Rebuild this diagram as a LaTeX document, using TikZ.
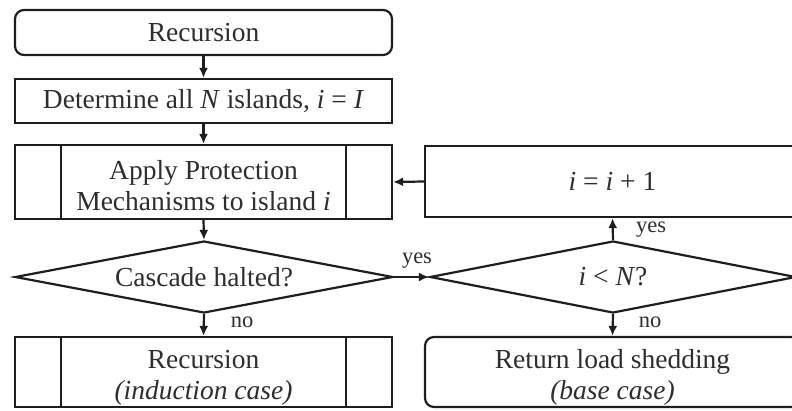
\documentclass[tikz,border=0pt]{standalone}
\usepackage{fontspec}
\setmainfont{Liberation Serif}
\usetikzlibrary{shapes.geometric,arrows.meta}
\definecolor{ink}{HTML}{1E1E1E}
\definecolor{txt}{HTML}{2E2E2E}
\tikzset{
  box/.style={draw=ink, line width=2.2pt, minimum width=377pt, inner sep=0pt,
    align=center, text=txt, font=\fontsize{27.5}{31}\selectfont},
  rbox/.style={box, rounded corners=9pt},
  decision/.style={diamond, draw=ink, line width=2.2pt, inner sep=0pt,
    shape aspect=5, text=txt, font=\fontsize{27.5}{31}\selectfont},
  flow/.style={draw=ink, line width=2.2pt, -{Latex[length=10pt,width=9pt]}},
  bar/.style={draw=ink, line width=2.2pt},
  lbl/.style={text=txt, inner sep=0pt, font=\fontsize{22.5}{26}\selectfont}
}
% strut that lowers a two-line text block inside its box
\newcommand{\lowerstrut}[1]{\rule{0pt}{#1}}
\begin{document}
\begin{tikzpicture}[x=1pt,y=-1pt]
  \useasboundingbox (0,0) rectangle (792,410);
  \clip (0,0) rectangle (792,410);
  \fill[white] (0,0) rectangle (792,410);

  % left column
  \node[rbox, minimum height=45pt] (rec) at (203.5,32.5) {Recursion};
  \node[box, minimum height=44pt] (det) at (203.5,101)
    {Determine all \textit{N} islands, \textit{i} = \textit{I}};
  \node[box, minimum height=74pt] (app) at (203.5,182)
    {\lowerstrut{27pt}Apply Protection\\Mechanisms to island \textit{i}};
  \node[decision, minimum width=378pt, minimum height=72pt] (cas) at (204,277)
    {Cascade halted?};
  \node[box, minimum height=70pt] (ind) at (203.5,372)
    {\lowerstrut{30pt}Recursion\\\textit{(induction case)}};

  % subroutine side bars
  \foreach \n in {app,ind}{
    \draw[bar] ([xshift=47pt]\n.north west) -- ([xshift=47pt]\n.south west);
    \draw[bar] ([xshift=-47pt]\n.north east) -- ([xshift=-47pt]\n.south east);
  }

  % right column
  \node[box, minimum width=375pt, minimum height=71pt] (inc) at (612.5,181.5)
    {\textit{i} = \textit{i} + 1};
  \node[decision, minimum width=366pt, minimum height=72pt] (lt) at (613,277)
    {\textit{i} < \textit{N}?};
  \node[rbox, minimum width=375pt, minimum height=70pt] (ret) at (612.5,372)
    {\lowerstrut{30pt}Return load shedding\\\textit{(base case)}};

  % connectors
  \draw[flow] (rec.south) -- (det.north);
  \draw[flow] (det.south) -- (app.north);
  \draw[flow] (app.south) -- (cas.north);
  \draw[flow] (cas.south) -- (ind.north);
  \draw[flow] (cas.east) -- (lt.west);
  \draw[flow] (lt.north) -- (inc.south);
  \draw[flow] (lt.south) -- (ret.north);
  \draw[flow] (inc.west) -- (app.east);

  % branch labels
  \node[lbl] (no1) at (242,322) {no};
  \node[lbl] (yes1) at (417,261) {yes};
  \node[lbl] (yes2) at (651,230) {yes};
  \node[lbl] (no2) at (650,322) {no};
\end{tikzpicture}
\end{document}
